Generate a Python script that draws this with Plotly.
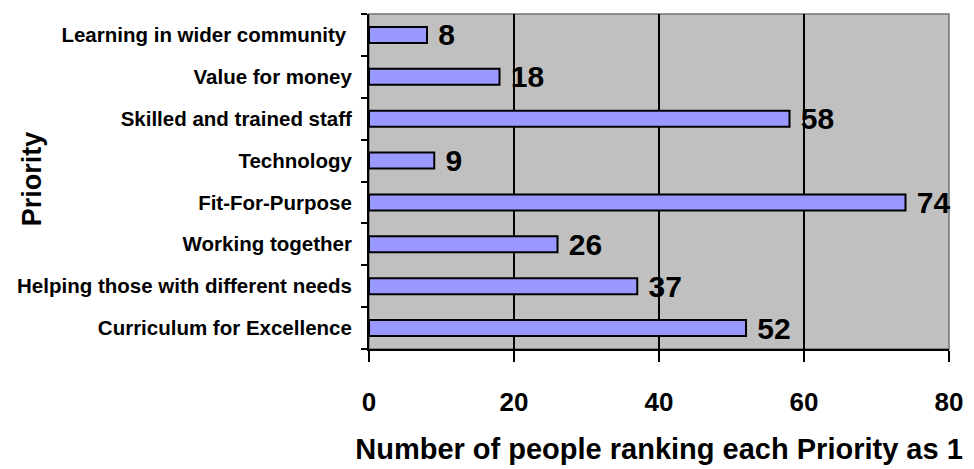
import plotly.graph_objects as go

categories = [
    "Curriculum for Excellence",
    "Helping those with different needs",
    "Working together",
    "Fit-For-Purpose",
    "Technology",
    "Skilled and trained staff",
    "Value for money",
    "Learning in wider community\u00a0",
]
counts = [52, 37, 26, 74, 9, 58, 18, 8]
x_ticks = [0, 20, 40, 60, 80]

FONT = "Liberation Sans, Arial, sans-serif"

fig = go.Figure(
    go.Bar(
        y=categories,
        x=counts,
        orientation="h",
        width=0.38,
        marker=dict(color="#9999FF", line=dict(color="black", width=2)),
        text=["\u00a0" + str(v) for v in counts],
        textposition="outside",
        textfont=dict(family=FONT, size=30, color="black", weight="bold"),
        cliponaxis=False,
        constraintext="none",
    )
)

fig.update_layout(
    width=974,
    height=469,
    margin=dict(l=369, r=25, t=14, b=120),
    paper_bgcolor="white",
    plot_bgcolor="#C0C0C0",
    showlegend=False,
    font=dict(family=FONT, color="black"),
    shapes=[
        dict(type="rect", xref="paper", yref="paper", x0=0, x1=1, y0=0, y1=1,
             line=dict(color="#707070", width=1.5), layer="below")
    ],
    annotations=[
        dict(text="Priority", textangle=-90, xref="paper", yref="paper",
             x=(32 - 369) / 580, y=0.507, xanchor="center", yanchor="middle",
             showarrow=False, font=dict(family=FONT, size=27, weight="bold", color="black"))
    ],
)

fig.update_xaxes(
    range=[0, 80],
    tickvals=x_ticks,
    showgrid=True,
    gridcolor="black",
    gridwidth=1.5,
    zeroline=False,
    showline=True,
    linecolor="black",
    linewidth=2,
    ticks="outside",
    ticklen=11,
    tickwidth=2,
    tickcolor="black",
    ticklabelstandoff=18,
    automargin=False,
    tickfont=dict(family=FONT, size=26, weight="bold"),
    title=dict(text="Number of people ranking each Priority as 1",
               font=dict(family=FONT, size=29, weight="bold"), standoff=22),
)

fig.update_yaxes(
    showgrid=False,
    zeroline=False,
    showline=True,
    linecolor="black",
    linewidth=2,
    ticks="outside",
    tickson="boundaries",
    ticklen=6,
    tickwidth=2,
    tickcolor="black",
    ticklabelstandoff=11,
    automargin=False,
    tickfont=dict(family=FONT, size=20.5, weight="bold"),
)

fig.write_html("out.html")
